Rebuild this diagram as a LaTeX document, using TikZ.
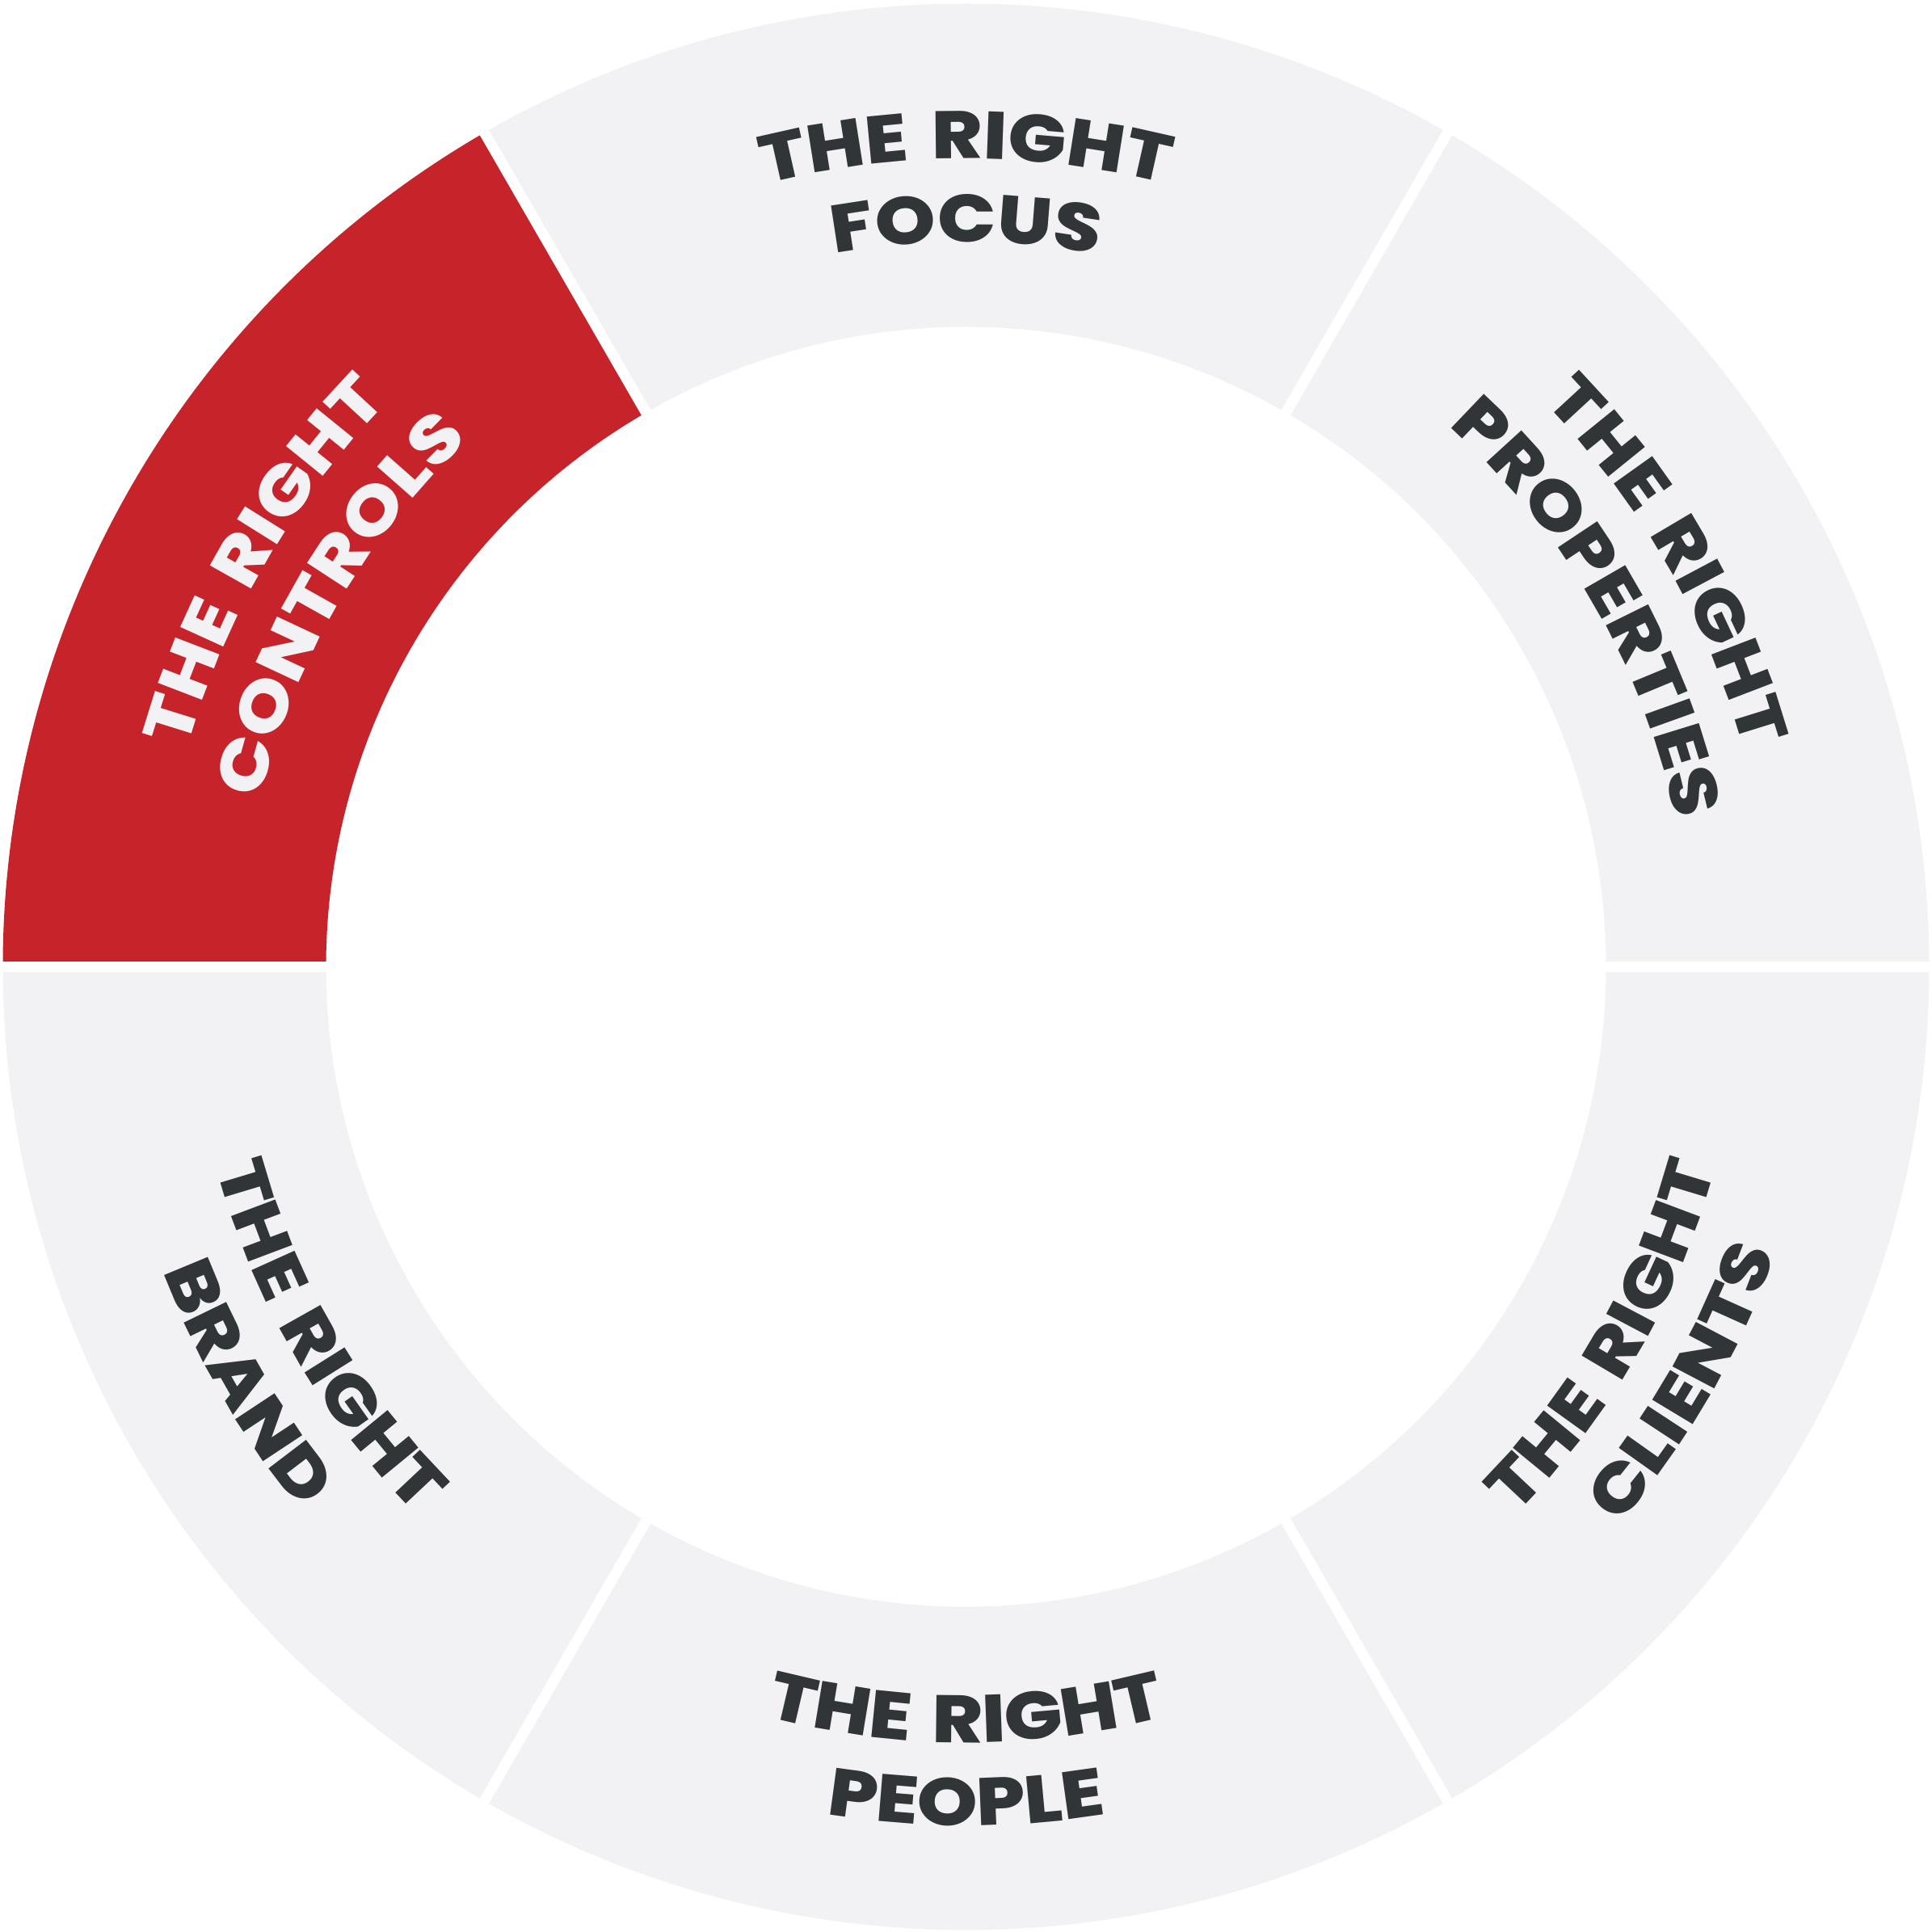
\documentclass[tikz,border=0pt]{standalone}
\usepackage{fontspec}
\newfontfamily\ringfont{Poppins ExtraBold}[FakeStretch=1.15, LetterSpace=2, WordSpace=1.4]
\newcommand{\labelfont}{\ringfont\fontsize{23.6}{26}\selectfont}
\usetikzlibrary{decorations.text}
\definecolor{ringred}{HTML}{C6232B}
\definecolor{ringgray}{HTML}{F2F2F4}
\definecolor{ink}{HTML}{323538}
\tikzset{
  seg/.style={fill=ringgray},
  hot/.style={fill=ringred},
  gap/.style={draw=white, line width=0.13cm},
  % text read clockwise (upper half) or anticlockwise (lower half)
  cwtext/.style 2 args={decorate, decoration={text along path, text align=center,
    text color=#1, text={|\labelfont|#2}}},
}
% one line of text on an arc: mid angle, radius, colour, text
\newcommand{\cwline}[4]{\path[cwtext={#3}{#4}] (#1+40:#2) arc[start angle=#1+40, end angle=#1-40, radius=#2];}
\newcommand{\ccwline}[4]{\path[cwtext={#3}{#4}] (#1-40:#2) arc[start angle=#1-40, end angle=#1+40, radius=#2];}

\begin{document}
\begin{tikzpicture}
\useasboundingbox (-11.955,-11.945) rectangle (11.955,11.965);
% ring segments
\foreach \a in {0,60,...,300}
  \fill[seg] (\a:7.92) -- (\a:11.92) arc[start angle=\a, end angle=\a+60, radius=11.92]
    -- (\a+60:7.92) arc[start angle=\a+60, end angle=\a, radius=7.92] -- cycle;
\fill[hot] (120:7.92) -- (120:11.92) arc[start angle=120, end angle=180, radius=11.92]
  -- (180:7.92) arc[start angle=180, end angle=120, radius=7.92] -- cycle;
% white gaps between segments
\foreach \a in {0,60,...,300}
  \draw[gap] (\a:7.7) -- (\a:11.95);
% upper labels
\cwline{90}{10.00}{ink}{THE RIGHT}
\cwline{90}{8.97}{ink}{FOCUS}
\cwline{30}{10.00}{ink}{THE RIGHT}
\cwline{30}{8.97}{ink}{PROPERTIES}
\cwline{150}{10.00}{ringgray}{THE RIGHT}
\cwline{150}{8.97}{ringgray}{CONTROLS}
% lower labels
\ccwline{-90}{9.60}{ink}{THE RIGHT}
\ccwline{-90}{10.63}{ink}{PEOPLE}
\ccwline{-30}{9.60}{ink}{THE RIGHT}
\ccwline{-30}{10.63}{ink}{CLIENTS}
\ccwline{210}{9.60}{ink}{THE RIGHT}
\ccwline{210}{10.63}{ink}{BRAND}
\end{tikzpicture}
\end{document}
